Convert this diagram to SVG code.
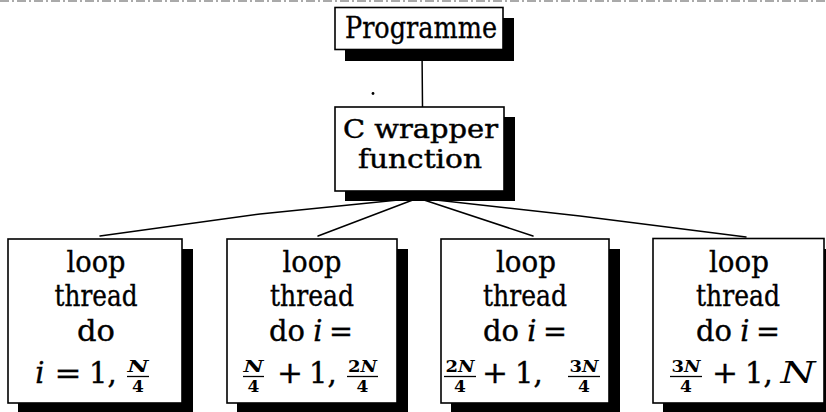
<svg xmlns="http://www.w3.org/2000/svg" width="826" height="412" viewBox="0 0 826 412">
  <style>
    .box { fill: #fff; stroke: #000; stroke-width: 1.6; }
    .shadow { fill: #000; }
    .edge { fill: none; stroke: #000; stroke-width: 1.5; stroke-linecap: round; }
    .t { font-family: 'DejaVu Serif', 'Liberation Serif', serif; font-size: 29px; fill: #000; stroke: #000; stroke-width: 0.35; text-anchor: middle; }
    .w { font-size: 26px; stroke-width: 0.45; }
    .it { font-style: italic; }
    .fr { font-family: 'DejaVu Serif', 'Liberation Serif', serif; font-size: 17px; font-weight: bold; fill: #000; text-anchor: middle; }
    .bar { stroke: #000; stroke-width: 1.3; }
    .scan { fill: none; stroke: #555; stroke-width: 1; stroke-dasharray: 9 3 2 3; }
  </style>

  <rect width="826" height="412" fill="#fff"/>

  <!-- faint page-edge marks -->
  <line class="scan" x1="0" y1="1" x2="826" y2="1"/>
  <line class="scan" x1="825" y1="258" x2="825" y2="332"/>
  <circle cx="373" cy="93.5" r="1.4" fill="#000"/>

  <!-- connectors -->
  <g id="connectors">
    <line class="edge" x1="422" y1="48" x2="422.5" y2="107"/>
    <path class="edge" d="M418 198 L260 214 L100 236"/>
    <line class="edge" x1="418" y1="198" x2="318" y2="236"/>
    <line class="edge" x1="418" y1="198" x2="533" y2="236"/>
    <path class="edge" d="M418 198 L580 216 L746 237"/>
  </g>

  <!-- top level -->
  <g id="programme">
    <rect class="shadow" x="345" y="18" width="169" height="43"/>
    <rect class="box" x="335" y="7.5" width="168" height="42"/>
    <text class="t" x="421" y="38" textLength="152" lengthAdjust="spacingAndGlyphs">Programme</text>
  </g>

  <g id="wrapper">
    <rect class="shadow" x="345" y="117" width="170" height="84"/>
    <rect class="box" x="335" y="107" width="169" height="84"/>
    <text class="t w" x="420.5" y="138" textLength="155" lengthAdjust="spacingAndGlyphs">C wrapper</text>
    <text class="t w" x="420" y="168" textLength="124" lengthAdjust="spacingAndGlyphs">function</text>
  </g>

  <!-- thread 1 -->
  <g id="thread1">
    <rect class="shadow" x="18" y="249" width="175" height="163"/>
    <rect class="box" x="8" y="239" width="174" height="164"/>
    <text class="t" x="96" y="272" textLength="59" lengthAdjust="spacingAndGlyphs">loop</text>
    <text class="t" x="96" y="306" textLength="83" lengthAdjust="spacingAndGlyphs">thread</text>
    <text class="t" x="96" y="341" textLength="38" lengthAdjust="spacingAndGlyphs">do</text>
    <text class="t it" x="40" y="383">i</text>
    <text class="t" x="68" y="383" textLength="27" lengthAdjust="spacingAndGlyphs">=</text>
    <text class="t" x="89" y="383" style="text-anchor:start">1,</text>
    <text class="fr it" x="138" y="372" textLength="21" lengthAdjust="spacingAndGlyphs">N</text>
    <line class="bar" x1="127" y1="376.5" x2="149" y2="376.5"/>
    <text class="fr" x="138" y="392">4</text>
  </g>

  <!-- thread 2 -->
  <g id="thread2">
    <rect class="shadow" x="237" y="249" width="171" height="163"/>
    <rect class="box" x="227" y="239" width="170" height="164"/>
    <text class="t" x="312" y="272" textLength="59" lengthAdjust="spacingAndGlyphs">loop</text>
    <text class="t" x="312" y="306" textLength="84" lengthAdjust="spacingAndGlyphs">thread</text>
    <text class="t" x="287" y="341" textLength="36" lengthAdjust="spacingAndGlyphs">do</text>
    <text class="t it" x="318" y="341">i</text>
    <text class="t" x="341" y="341" textLength="24" lengthAdjust="spacingAndGlyphs">=</text>
    <text class="fr it" x="253.5" y="372" textLength="20" lengthAdjust="spacingAndGlyphs">N</text>
    <line class="bar" x1="243" y1="376.5" x2="264" y2="376.5"/>
    <text class="fr" x="253.5" y="392">4</text>
    <text class="t" x="290" y="383" textLength="26" lengthAdjust="spacingAndGlyphs">+</text>
    <text class="t" x="309" y="383" style="text-anchor:start">1,</text>
    <text class="fr" x="362.5" y="372" textLength="29" lengthAdjust="spacingAndGlyphs">2<tspan class="it">N</tspan></text>
    <line class="bar" x1="347" y1="376.5" x2="378" y2="376.5"/>
    <text class="fr" x="362.5" y="392">4</text>
  </g>

  <!-- thread 3 -->
  <g id="thread3">
    <rect class="shadow" x="451" y="249" width="169" height="163"/>
    <rect class="box" x="441" y="239" width="168" height="164"/>
    <text class="t" x="526" y="272" textLength="60" lengthAdjust="spacingAndGlyphs">loop</text>
    <text class="t" x="525" y="306" textLength="84" lengthAdjust="spacingAndGlyphs">thread</text>
    <text class="t" x="501" y="341" textLength="36" lengthAdjust="spacingAndGlyphs">do</text>
    <text class="t it" x="532" y="341">i</text>
    <text class="t" x="555" y="341" textLength="24" lengthAdjust="spacingAndGlyphs">=</text>
    <text class="fr" x="460" y="372" textLength="29" lengthAdjust="spacingAndGlyphs">2<tspan class="it">N</tspan></text>
    <line class="bar" x1="444" y1="376.5" x2="476" y2="376.5"/>
    <text class="fr" x="460" y="392">4</text>
    <text class="t" x="495" y="383" textLength="26" lengthAdjust="spacingAndGlyphs">+</text>
    <text class="t" x="515" y="383" style="text-anchor:start">1,</text>
    <text class="fr" x="584" y="372" textLength="29" lengthAdjust="spacingAndGlyphs">3<tspan class="it">N</tspan></text>
    <line class="bar" x1="568" y1="376.5" x2="600" y2="376.5"/>
    <text class="fr" x="584" y="392">4</text>
  </g>

  <!-- thread 4 -->
  <g id="thread4">
    <rect class="shadow" x="663" y="249" width="171" height="163"/>
    <rect class="box" x="653" y="238.5" width="171" height="164.5"/>
    <text class="t" x="739" y="272" textLength="60" lengthAdjust="spacingAndGlyphs">loop</text>
    <text class="t" x="738" y="306" textLength="84" lengthAdjust="spacingAndGlyphs">thread</text>
    <text class="t" x="714" y="341" textLength="36" lengthAdjust="spacingAndGlyphs">do</text>
    <text class="t it" x="745" y="341">i</text>
    <text class="t" x="768" y="341" textLength="24" lengthAdjust="spacingAndGlyphs">=</text>
    <text class="fr" x="686" y="372" textLength="29" lengthAdjust="spacingAndGlyphs">3<tspan class="it">N</tspan></text>
    <line class="bar" x1="670" y1="376.5" x2="702" y2="376.5"/>
    <text class="fr" x="686" y="392">4</text>
    <text class="t" x="725" y="383" textLength="26" lengthAdjust="spacingAndGlyphs">+</text>
    <text class="t" x="745" y="383" style="text-anchor:start">1,</text>
    <text class="t it" x="798" y="383" textLength="35" lengthAdjust="spacingAndGlyphs" style="stroke-width:0">N</text>
  </g>
</svg>
